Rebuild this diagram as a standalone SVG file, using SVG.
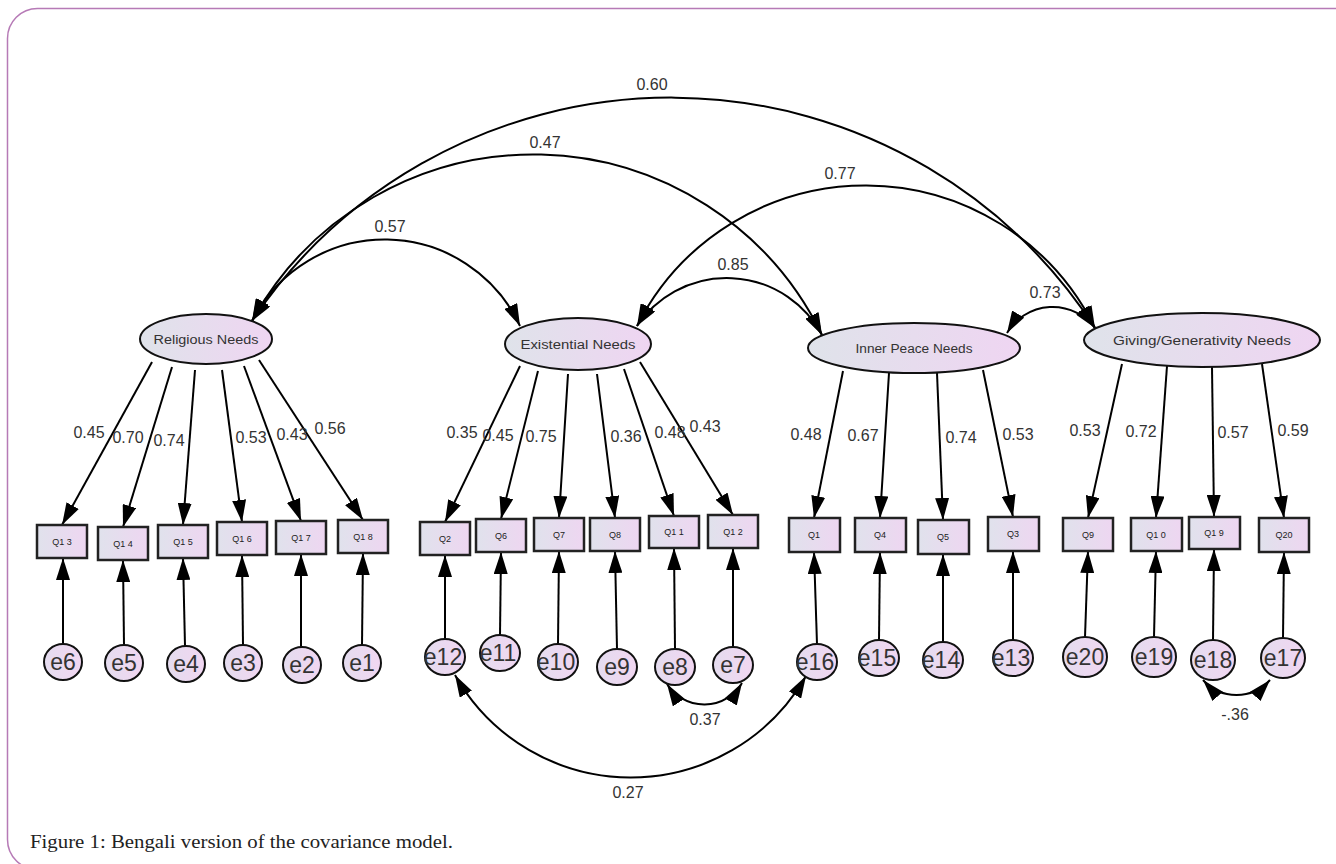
<svg xmlns="http://www.w3.org/2000/svg" width="1336" height="864" viewBox="0 0 1336 864">
<defs>
<linearGradient id="gl" x1="0" y1="0" x2="1" y2="0"><stop offset="0" stop-color="#dfe3ea"/><stop offset="1" stop-color="#efd5f2"/></linearGradient>
<linearGradient id="gr" x1="0" y1="0" x2="1" y2="0"><stop offset="0" stop-color="#e0e2ec"/><stop offset="1" stop-color="#eed6f1"/></linearGradient>
<linearGradient id="gc" x1="0" y1="0" x2="1" y2="0"><stop offset="0" stop-color="#e4dcef"/><stop offset="1" stop-color="#f1d6f1"/></linearGradient>
<marker id="ah" viewBox="0 0 22 14" refX="22" refY="7" markerWidth="22" markerHeight="14" markerUnits="userSpaceOnUse" orient="auto-start-reverse"><path d="M0,0 L22,7 L0,14 z" fill="#000"/></marker>
</defs>
<style>
.lat{fill:url(#gl);stroke:#111;stroke-width:2}
.obs{fill:url(#gr);stroke:#222;stroke-width:2.5}
.err{fill:url(#gc);stroke:#111;stroke-width:2}
.ln{fill:none;stroke:#000;stroke-width:2;marker-end:url(#ah)}
.cv{fill:none;stroke:#000;stroke-width:2;marker-start:url(#ah);marker-end:url(#ah)}
.lt{font-family:"Liberation Sans",Arial,sans-serif;font-size:12px;fill:#333;text-anchor:middle}
.qt{font-family:"Liberation Sans",Arial,sans-serif;font-size:9px;fill:#222;text-anchor:middle}
.et{font-family:"Liberation Sans",Arial,sans-serif;font-size:23px;fill:#333;text-anchor:middle}
.nt{font-family:"Liberation Sans",Arial,sans-serif;font-size:16px;fill:#333;text-anchor:middle}
.cap{font-family:"Liberation Serif","Times New Roman",serif;font-size:18.5px;fill:#222}
</style>
<rect x="7.5" y="8.5" width="1360" height="861" rx="30" ry="30" fill="#fff" stroke="#b67ab6" stroke-width="1.5"/>

<g id="connectors">
<!-- latent covariances -->
<path class="cv" d="M252,321 A505,505 0 0 1 1095,328"/>
<path class="cv" d="M252,321 A321,321 0 0 1 822,335"/>
<path class="cv" d="M252,321 A149,149 0 0 1 520,326"/>
<path class="cv" d="M637,326 A256,256 0 0 1 1095,328"/>
<path class="cv" d="M637,326 A108,108 0 0 1 822,335"/>
<path class="cv" d="M1007,333 A53,53 0 0 1 1095,328"/>
<!-- loadings -->
<path class="ln" d="M152,362 L62,525"/>
<path class="ln" d="M172,367 L123,527"/>
<path class="ln" d="M195,370 L183,525"/>
<path class="ln" d="M222,370 L242,522"/>
<path class="ln" d="M244,366 L301,521"/>
<path class="ln" d="M259,360 L363,520"/>
<path class="ln" d="M520,366 L445,522"/>
<path class="ln" d="M538,371 L501,519"/>
<path class="ln" d="M568,374 L559,518"/>
<path class="ln" d="M597,374 L615,518"/>
<path class="ln" d="M624,369 L674,516"/>
<path class="ln" d="M640,362 L733,515"/>
<path class="ln" d="M843,371 L814,518"/>
<path class="ln" d="M889,373 L880,518"/>
<path class="ln" d="M937,373 L943,520"/>
<path class="ln" d="M983,370 L1013,517"/>
<path class="ln" d="M1122,364 L1088,518"/>
<path class="ln" d="M1167,366 L1156,518"/>
<path class="ln" d="M1212,367 L1214,517"/>
<path class="ln" d="M1262,364 L1284,518"/>
<!-- error paths -->
<path class="ln" d="M63,644 L63,558"/>
<path class="ln" d="M124,645 L123,560"/>
<path class="ln" d="M185,646 L183,558"/>
<path class="ln" d="M243,645 L242,555"/>
<path class="ln" d="M301,647 L301,554"/>
<path class="ln" d="M362,645 L363,553"/>
<path class="ln" d="M445,639 L445,555"/>
<path class="ln" d="M500,635 L501,552"/>
<path class="ln" d="M558,644 L559,551"/>
<path class="ln" d="M617,649 L615,551"/>
<path class="ln" d="M675,649 L674,548"/>
<path class="ln" d="M733,647 L733,548"/>
<path class="ln" d="M817,644 L814,552"/>
<path class="ln" d="M879,640 L880,552"/>
<path class="ln" d="M943,642 L943,554"/>
<path class="ln" d="M1013,640 L1013,551"/>
<path class="ln" d="M1085,637 L1088,551"/>
<path class="ln" d="M1154,637 L1156,551"/>
<path class="ln" d="M1213,640 L1214,549"/>
<path class="ln" d="M1283,638 L1284,552"/>
<!-- error covariances -->
<path class="cv" d="M455,675 A202,202 0 0 0 806,676"/>
<path class="cv" d="M667,684 A44,44 0 0 0 742,683"/>
<path class="cv" d="M1203,680 A45,45 0 0 0 1270,680"/>
<!-- labels -->
<text class="nt" x="652" y="90">0.60</text>
<text class="nt" x="545" y="148">0.47</text>
<text class="nt" x="390" y="232">0.57</text>
<text class="nt" x="840" y="179">0.77</text>
<text class="nt" x="733" y="270">0.85</text>
<text class="nt" x="1045" y="298">0.73</text>
<text class="nt" x="89" y="438">0.45</text>
<text class="nt" x="128" y="443">0.70</text>
<text class="nt" x="169" y="446">0.74</text>
<text class="nt" x="251" y="443">0.53</text>
<text class="nt" x="292" y="440">0.43</text>
<text class="nt" x="330" y="434">0.56</text>
<text class="nt" x="462" y="438">0.35</text>
<text class="nt" x="498" y="441">0.45</text>
<text class="nt" x="541" y="442">0.75</text>
<text class="nt" x="626" y="442">0.36</text>
<text class="nt" x="670" y="438">0.48</text>
<text class="nt" x="705" y="432">0.43</text>
<text class="nt" x="806" y="440">0.48</text>
<text class="nt" x="863" y="441">0.67</text>
<text class="nt" x="961" y="443">0.74</text>
<text class="nt" x="1018" y="440">0.53</text>
<text class="nt" x="1085" y="436">0.53</text>
<text class="nt" x="1141" y="437">0.72</text>
<text class="nt" x="1233" y="438">0.57</text>
<text class="nt" x="1293" y="436">0.59</text>
<text class="nt" x="705" y="725">0.37</text>
<text class="nt" x="628" y="798">0.27</text>
<text class="nt" x="1235" y="720">-.36</text>
</g>

<g id="religious"><ellipse class="lat" cx="206" cy="339" rx="66" ry="25"/><text class="lt" x="206" y="344" textLength="105" lengthAdjust="spacingAndGlyphs">Religious Needs</text></g>
<g id="existential"><ellipse class="lat" cx="578" cy="344" rx="73" ry="26"/><text class="lt" x="578" y="349" textLength="115" lengthAdjust="spacingAndGlyphs">Existential Needs</text></g>
<g id="innerpeace"><ellipse class="lat" cx="914" cy="348" rx="106" ry="25"/><text class="lt" x="914" y="353" textLength="117" lengthAdjust="spacingAndGlyphs">Inner Peace Needs</text></g>
<g id="giving"><ellipse class="lat" cx="1202" cy="340" rx="118" ry="27"/><text class="lt" x="1202" y="345" textLength="178" lengthAdjust="spacingAndGlyphs">Giving/Generativity Needs</text></g>

<g id="Q13"><rect class="obs" x="37" y="525" width="50" height="33"/><text class="qt" x="62" y="545">Q1 3</text></g>
<g id="Q14"><rect class="obs" x="98" y="527" width="50" height="33"/><text class="qt" x="123" y="547">Q1 4</text></g>
<g id="Q15"><rect class="obs" x="158" y="525" width="50" height="33"/><text class="qt" x="183" y="545">Q1 5</text></g>
<g id="Q16"><rect class="obs" x="217" y="522" width="50" height="33"/><text class="qt" x="242" y="542">Q1 6</text></g>
<g id="Q17"><rect class="obs" x="276" y="521" width="50" height="33"/><text class="qt" x="301" y="541">Q1 7</text></g>
<g id="Q18"><rect class="obs" x="338" y="520" width="50" height="33"/><text class="qt" x="363" y="540">Q1 8</text></g>
<g id="Q2"><rect class="obs" x="420" y="522" width="50" height="33"/><text class="qt" x="445" y="542">Q2</text></g>
<g id="Q6"><rect class="obs" x="476" y="519" width="50" height="33"/><text class="qt" x="501" y="539">Q6</text></g>
<g id="Q7"><rect class="obs" x="534" y="518" width="50" height="33"/><text class="qt" x="559" y="538">Q7</text></g>
<g id="Q8"><rect class="obs" x="590" y="518" width="50" height="33"/><text class="qt" x="615" y="538">Q8</text></g>
<g id="Q11"><rect class="obs" x="649" y="516" width="50" height="32"/><text class="qt" x="674" y="535">Q1 1</text></g>
<g id="Q12"><rect class="obs" x="708" y="515" width="50" height="33"/><text class="qt" x="733" y="535">Q1 2</text></g>
<g id="Q1"><rect class="obs" x="789" y="518" width="51" height="34"/><text class="qt" x="814" y="538">Q1</text></g>
<g id="Q4"><rect class="obs" x="855" y="518" width="51" height="34"/><text class="qt" x="880" y="538">Q4</text></g>
<g id="Q5"><rect class="obs" x="918" y="520" width="51" height="34"/><text class="qt" x="943" y="540">Q5</text></g>
<g id="Q3"><rect class="obs" x="988" y="517" width="51" height="34"/><text class="qt" x="1013" y="537">Q3</text></g>
<g id="Q9"><rect class="obs" x="1063" y="518" width="50" height="33"/><text class="qt" x="1088" y="538">Q9</text></g>
<g id="Q10"><rect class="obs" x="1131" y="518" width="51" height="33"/><text class="qt" x="1156" y="538">Q1 0</text></g>
<g id="Q19"><rect class="obs" x="1189" y="517" width="51" height="32"/><text class="qt" x="1214" y="536">Q1 9</text></g>
<g id="Q20"><rect class="obs" x="1259" y="518" width="50" height="34"/><text class="qt" x="1284" y="538">Q20</text></g>

<g id="e6"><ellipse class="err" cx="63" cy="662" rx="19" ry="18"/><text class="et" x="63" y="670">e6</text></g>
<g id="e5"><ellipse class="err" cx="124" cy="663" rx="19" ry="18"/><text class="et" x="124" y="671">e5</text></g>
<g id="e4"><ellipse class="err" cx="186" cy="664" rx="19" ry="18"/><text class="et" x="186" y="672">e4</text></g>
<g id="e3"><ellipse class="err" cx="243" cy="663" rx="19" ry="18"/><text class="et" x="243" y="671">e3</text></g>
<g id="e2"><ellipse class="err" cx="302" cy="665" rx="19" ry="18"/><text class="et" x="302" y="673">e2</text></g>
<g id="e1"><ellipse class="err" cx="362" cy="663" rx="19" ry="18"/><text class="et" x="362" y="671">e1</text></g>
<g id="e12"><ellipse class="err" cx="445" cy="657" rx="20" ry="18"/><text class="et" x="443" y="665">e12</text></g>
<g id="e11"><ellipse class="err" cx="500" cy="653" rx="20" ry="18"/><text class="et" x="498" y="661">e11</text></g>
<g id="e10"><ellipse class="err" cx="558" cy="662" rx="20" ry="18"/><text class="et" x="556" y="670">e10</text></g>
<g id="e9"><ellipse class="err" cx="617" cy="667" rx="20" ry="18"/><text class="et" x="617" y="675">e9</text></g>
<g id="e8"><ellipse class="err" cx="675" cy="667" rx="20" ry="18"/><text class="et" x="675" y="675">e8</text></g>
<g id="e7"><ellipse class="err" cx="733" cy="665" rx="20" ry="18"/><text class="et" x="733" y="673">e7</text></g>
<g id="e16"><ellipse class="err" cx="817" cy="662" rx="20" ry="18"/><text class="et" x="815" y="670">e16</text></g>
<g id="e15"><ellipse class="err" cx="879" cy="658" rx="20" ry="18"/><text class="et" x="877" y="666">e15</text></g>
<g id="e14"><ellipse class="err" cx="943" cy="660" rx="20" ry="18"/><text class="et" x="941" y="668">e14</text></g>
<g id="e13"><ellipse class="err" cx="1013" cy="658" rx="20" ry="18"/><text class="et" x="1011" y="666">e13</text></g>
<g id="e20"><ellipse class="err" cx="1085" cy="657" rx="22" ry="20"/><text class="et" x="1085" y="665">e20</text></g>
<g id="e19"><ellipse class="err" cx="1154" cy="657" rx="22" ry="20"/><text class="et" x="1154" y="665">e19</text></g>
<g id="e18"><ellipse class="err" cx="1213" cy="660" rx="22" ry="20"/><text class="et" x="1213" y="668">e18</text></g>
<g id="e17"><ellipse class="err" cx="1283" cy="658" rx="22" ry="20"/><text class="et" x="1283" y="666">e17</text></g>

<text class="cap" x="30" y="848" textLength="423" lengthAdjust="spacingAndGlyphs">Figure 1: Bengali version of the covariance model.</text>
</svg>
